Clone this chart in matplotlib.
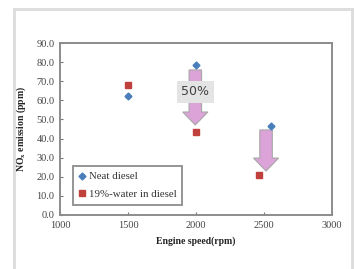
import matplotlib
matplotlib.use("Agg")
import matplotlib.pyplot as plt
from matplotlib.patches import FancyArrow
from matplotlib.lines import Line2D

# Data
speed_neat = [1500, 2000, 2555]
nox_neat = [62.3, 78.5, 46.7]
speed_water = [1500, 2000, 2462]
nox_water = [68.0, 43.6, 20.7]
labels = ["Neat diesel", "19%-water in diesel"]
yticks = [0, 10, 20, 30, 40, 50, 60, 70, 80, 90]
xticks = [1000, 1500, 2000, 2500, 3000]

# arrows: (x, y_start, y_end)
arrows = [(1995, 75.9, 47.1), (2515, 44.5, 23.0)]

serif = ["Liberation Serif", "DejaVu Serif"]

fig = plt.figure(figsize=(3.54, 2.69), dpi=100)
ax = fig.add_axes([60/354, 1-215/269, 272/354, 172/269])

# frame around figure
for (xs, ys) in [([14/354, 14/354], [-0.1, 1-9/269]), ([14/354, 352/354], [1-9/269, 1-9/269]),
                 ([352/354, 352/354], [-0.1, 1-9/269])]:
    fig.add_artist(Line2D(xs, ys, transform=fig.transFigure, color="#dcdcdc", lw=2))

ax.set_xlim(1000, 3000)
ax.set_ylim(0, 90)

for (x, y0, y1) in arrows:
    ax.add_patch(FancyArrow(x, y0, 0, y1 - y0, width=92, head_width=185, head_length=6.8,
                            length_includes_head=True, facecolor="#dba3d8", edgecolor="#a8a8a8",
                            lw=0.8, zorder=2))

ax.plot(speed_neat, nox_neat, linestyle="none", marker="D", markersize=3.5,
        color="#4a7ebb", label=labels[0], zorder=3)
ax.plot(speed_water, nox_water, linestyle="none", marker="s", markersize=5,
        color="#c0403c", label=labels[1], zorder=3)

ax.text(1995, 64.4, "50%", ha="center", va="center", fontsize=9, color="#404040",
        family="DejaVu Sans",
        bbox=dict(boxstyle="square,pad=0.35", facecolor="#e4e4e4", edgecolor="none"), zorder=4)

ax.set_xticks(xticks)
ax.set_xticklabels([str(t) for t in xticks])
ax.set_yticks(yticks)
ax.set_yticklabels([f"{t:.1f}" for t in yticks])
ax.tick_params(direction="in", length=2.5, width=0.8, colors="#777777", labelsize=7.5,
               labelcolor="#444444", pad=4)
for lab in ax.get_xticklabels() + ax.get_yticklabels():
    lab.set_family(serif)

for s in ax.spines.values():
    s.set_color("#8c8c8c")
    s.set_linewidth(1.4)

ax.set_xlabel("Engine speed(rpm)", fontsize=7, fontweight="bold", family=serif,
              color="#222222", labelpad=5)
ax.set_ylabel("NO$_\\mathregular{x}$ emission (ppm)", fontsize=7, fontweight="bold",
              family=serif, color="#222222", labelpad=6)

leg = ax.legend(loc="lower left", bbox_to_anchor=(0.048, 0.058), borderaxespad=0,
                fancybox=False, prop={"family": serif, "size": 7.8}, handlelength=0.6,
                handletextpad=0.3, borderpad=0.55, labelspacing=0.75, framealpha=1)
leg.get_frame().set_edgecolor("#8c8c8c")
leg.get_frame().set_linewidth(1.3)
for t in leg.get_texts():
    t.set_color("#333333")

fig.savefig("out.png", dpi=100)
